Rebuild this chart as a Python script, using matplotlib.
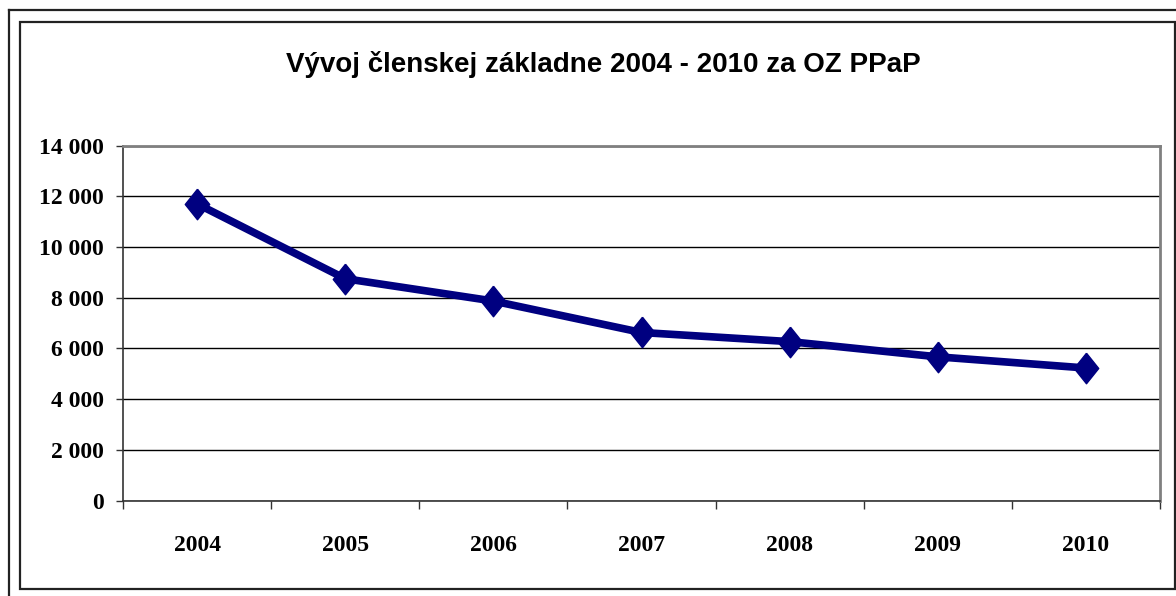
import matplotlib.pyplot as plt
from matplotlib.lines import Line2D
from matplotlib.patches import Rectangle

years = ['2004', '2005', '2006', '2007', '2008', '2009', '2010']
members = [11700, 8750, 7870, 6630, 6270, 5670, 5230]
y_ticks = [0, 2000, 4000, 6000, 8000, 10000, 12000, 14000]
title = 'Vývoj členskej základne 2004 - 2010 za OZ PPaP'

W, H = 1176, 596
fig = plt.figure(figsize=(W / 100, H / 100), dpi=100)

# double frame round the chart
fig.add_artist(Line2D([9 / W, 1], [1 - 10 / H, 1 - 10 / H], color='#222222', lw=1.6))
fig.add_artist(Line2D([9 / W, 9 / W], [0, 1 - 10 / H], color='#222222', lw=1.6))
fig.add_artist(Rectangle((20 / W, 1 - 589 / H), 1155 / W, 567 / H, fill=False,
                         edgecolor='#222222', lw=1.6))

ax = fig.add_axes([123 / W, 1 - 500.7 / H, (1160 - 123) / W, (500.7 - 145.5) / H])

x = list(range(len(years)))
diamond = [(0, 1), (0.8, 0), (0, -1), (-0.8, 0), (0, 1)]
ax.plot(x, members, color='#000080', lw=5.5, marker=diamond, ms=22,
        markerfacecolor='#000080', markeredgecolor='#000080', zorder=3)

ax.set_xlim(-0.5, len(years) - 0.5)
ax.set_ylim(0, 14000)
ax.set_yticks(y_ticks)
ax.set_yticklabels([f'{v:,}'.replace(',', ' ') for v in y_ticks])
ax.yaxis.grid(True, color='black', lw=1)
ax.set_axisbelow(True)

ax.set_xticks([i - 0.5 for i in range(len(years) + 1)])
ax.set_xticklabels([])
ax.set_xticks(x, minor=True)
ax.set_xticklabels(years, minor=True)
ax.tick_params(axis='x', which='major', length=6, width=1, color='#333333')
ax.tick_params(axis='x', which='minor', length=0, pad=25)
ax.tick_params(axis='y', length=5, width=1, color='#333333', pad=9)

for lab in ax.get_xticklabels(minor=True) + ax.get_yticklabels():
    lab.set_fontfamily('Liberation Serif')
    lab.set_fontweight('bold')
    lab.set_fontsize(17)

for side in ['left', 'bottom']:
    ax.spines[side].set_color('#333333')
    ax.spines[side].set_linewidth(1.2)
for side in ['top', 'right']:
    ax.spines[side].set_color('#808080')
    ax.spines[side].set_linewidth(2)

fig.text(603 / W, 1 - 64 / H, title, ha='center', va='center',
         fontfamily='Liberation Sans', fontweight='bold', fontsize=20)

fig.savefig('out.png', dpi=100)
